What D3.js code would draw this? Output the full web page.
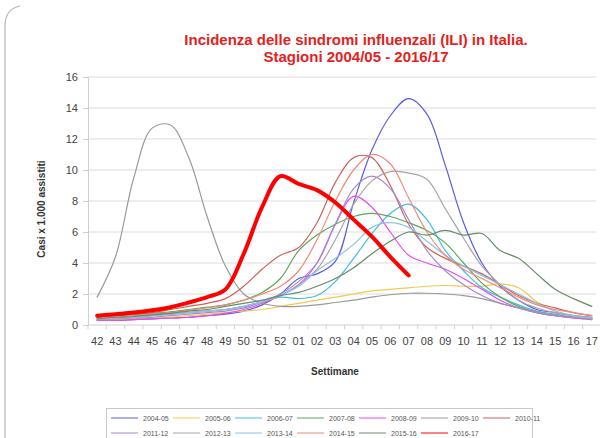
<!DOCTYPE html>
<html>
<head>
<meta charset="utf-8">
<script src="https://cdn.jsdelivr.net/npm/d3@7"></script>
<style>
  body { margin: 0; background: #fff; }
  svg { display: block; font-family: Arial, "Liberation Sans", sans-serif; }
</style>
</head>
<body>
<script>
// settimane 42..52, 01..17
var weeks = ['42','43','44','45','46','47','48','49','50','51','52','01','02','03','04','05','06','07','08','09','10','11','12','13','14','15','16','17']
var yTicks = [0, 2, 4, 6, 8, 10, 12, 14, 16]

var s2004_05 = [0.3,0.3,0.35,0.4,0.45,0.5,0.6,0.7,0.9,1.3,2.0,3.0,3.3,4.1,7.9,11.3,13.5,14.6,13.6,10.3,6.6,4.0,2.5,1.6,1.0,0.8,0.6,0.5]
var s2005_06 = [0.3,0.35,0.4,0.45,0.5,0.6,0.7,0.8,0.9,1.0,1.2,1.4,1.6,1.8,2.0,2.2,2.3,2.4,2.5,2.55,2.5,2.5,2.65,2.4,1.5,0.9,0.6,0.45]
var s2006_07 = [0.4,0.45,0.5,0.6,0.7,0.8,0.9,1.0,1.2,1.5,1.8,1.7,1.9,2.8,4.3,5.9,7.2,7.8,6.8,4.8,3.5,2.4,1.8,1.3,0.9,0.7,0.5,0.4]
var s2007_08 = [0.5,0.6,0.65,0.75,0.85,1.0,1.15,1.3,1.6,2.1,3.0,4.8,5.8,6.5,7.0,7.2,7.0,6.6,6.1,5.3,4.0,2.7,1.8,1.2,0.8,0.6,0.45,0.35]
var s2008_09 = [0.3,0.3,0.35,0.4,0.45,0.5,0.6,0.75,1.0,1.4,1.9,2.6,4.0,6.5,8.3,7.6,6.0,4.5,4.0,3.6,3.0,2.3,1.6,1.1,0.8,0.6,0.45,0.35]
var s2009_10 = [1.8,4.4,9.5,12.7,12.9,10.8,7.0,3.8,2.0,1.4,1.2,1.2,1.3,1.45,1.6,1.8,1.95,2.05,2.05,2.0,1.9,1.7,1.4,1.1,0.85,0.65,0.5,0.4]
var s2010_11 = [0.5,0.6,0.7,0.8,1.0,1.2,1.4,1.7,2.5,3.6,4.5,5.0,6.6,9.2,10.8,10.8,9.0,6.5,5.0,4.3,3.8,3.3,2.6,1.9,1.4,1.1,0.8,0.6]
var s2011_12 = [0.35,0.4,0.45,0.5,0.6,0.7,0.8,0.9,1.1,1.5,2.0,2.8,4.0,6.5,8.8,9.6,8.8,6.8,4.8,3.5,2.6,1.9,1.4,1.1,0.8,0.6,0.5,0.4]
var s2012_13 = [0.4,0.45,0.5,0.6,0.7,0.8,0.9,1.0,1.2,1.5,1.9,2.6,3.6,5.5,7.8,9.3,9.9,9.8,9.4,7.5,5.6,3.8,2.6,1.6,1.1,0.8,0.6,0.45]
var s2013_14 = [0.4,0.45,0.5,0.6,0.7,0.8,0.9,1.0,1.2,1.5,1.9,2.5,3.5,4.3,5.2,6.3,6.6,6.3,5.4,4.5,3.8,3.2,2.6,2.0,1.4,0.9,0.6,0.45]
var s2014_15 = [0.4,0.5,0.6,0.7,0.8,0.95,1.1,1.3,1.6,2.0,2.5,3.5,5.5,8.0,10.0,11.0,10.4,8.2,6.0,4.5,3.6,3.0,2.4,1.8,1.3,1.0,0.8,0.6]
var s2015_16 = [0.4,0.5,0.55,0.65,0.75,0.9,1.0,1.2,1.4,1.6,1.9,2.1,2.5,3.0,3.7,4.6,5.4,6.0,5.8,6.1,5.8,5.9,4.8,4.3,3.3,2.3,1.7,1.2]
var s2016_17 = [0.6,0.7,0.8,0.95,1.15,1.45,1.8,2.3,4.6,7.6,9.6,9.1,8.7,7.9,6.8,5.7,4.4,3.2,null,null,null,null,null,null,null,null,null,null]

var seasons = ['2004-05','2005-06','2006-07','2007-08','2008-09','2009-10','2010-11','2011-12','2012-13','2013-14','2014-15','2015-16','2016-17']
var seasonValues = [s2004_05, s2005_06, s2006_07, s2007_08, s2008_09, s2009_10, s2010_11, s2011_12, s2012_13, s2013_14, s2014_15, s2015_16, s2016_17]
var colors = ['#5b5be0','#f2c94c','#3fbfdf','#5aaa5a','#e84de8','#9a9a9a','#d0605a','#a68ad0','#aaa0b0','#8cc3e0','#f08a78','#6a8a6a','#ff0000']

var W = 600, H = 438
var margin = { left: 88, right: -1, top: 77, bottom: 325 }

var svg = d3.select('body').append('svg')
  .attr('width', W)
  .attr('height', H)

// chart frame (only the left side and corner show)
svg.append('path')
  .attr('d', 'M5,440 L5,26 Q5,9 20,6')
  .attr('fill', 'none')
  .attr('stroke', '#b8b8b8')
  .attr('stroke-width', 1.2)

var x = d3.scalePoint().domain(weeks).range([margin.left, W - margin.right]).padding(0.5)
var y = d3.scaleLinear().domain([0, 16]).range([margin.bottom, margin.top])
var step = x.step()

// title
var title = svg.append('text')
  .attr('text-anchor', 'middle')
  .attr('fill', '#e3221d')
  .style('font-weight', 'bold')
  .style('font-size', '15px')
title.append('tspan').attr('x', 356).attr('y', 45).text('Incidenza delle sindromi influenzali (ILI) in Italia.')
title.append('tspan').attr('x', 356).attr('y', 62).text('Stagioni 2004/05 - 2016/17')

// gridlines
svg.append('g').selectAll('line').data(yTicks.slice(1)).enter().append('line')
  .attr('x1', margin.left).attr('x2', 596)
  .attr('y1', function(d) { return y(d) }).attr('y2', function(d) { return y(d) })
  .attr('stroke', '#dcdcdc')

// y axis
var yAxis = svg.append('g')
  .attr('transform', 'translate(' + margin.left + ',0)')
  .call(d3.axisLeft(y).tickValues(yTicks).tickSize(5).tickPadding(5))
yAxis.select('.domain').attr('stroke', '#cfcfcf')
yAxis.selectAll('.tick line').attr('stroke', '#cfcfcf')
yAxis.selectAll('text').attr('fill', '#444').style('font-size', '11px').style('font-family', 'Arial, "Liberation Sans", sans-serif')

// x axis: ticks between categories, like the spreadsheet chart
var xg = svg.append('g')
xg.append('line')
  .attr('x1', margin.left).attr('x2', 600)
  .attr('y1', y(0)).attr('y2', y(0))
  .attr('stroke', '#cfcfcf')
xg.selectAll('line.tk').data(d3.range(weeks.length + 1)).enter().append('line')
  .attr('class', 'tk')
  .attr('x1', function(i) { return margin.left + i * step }).attr('x2', function(i) { return margin.left + i * step })
  .attr('y1', y(0)).attr('y2', y(0) + 4)
  .attr('stroke', '#cfcfcf')
xg.selectAll('text').data(weeks).enter().append('text')
  .attr('x', function(d) { return x(d) })
  .attr('y', y(0) + 20)
  .attr('text-anchor', 'middle')
  .attr('fill', '#444')
  .style('font-size', '11px')
  .text(function(d) { return d })

// axis titles
svg.append('text')
  .attr('transform', 'translate(45,209) rotate(-90)')
  .attr('text-anchor', 'middle')
  .attr('fill', '#333')
  .style('font-weight', 'bold')
  .style('font-size', '10px')
  .text('Casi x 1.000 assistiti')
svg.append('text')
  .attr('x', 335).attr('y', 375)
  .attr('text-anchor', 'middle')
  .attr('fill', '#333')
  .style('font-weight', 'bold')
  .style('font-size', '10px')
  .text('Settimane')

// lines
var line = d3.line()
  .defined(function(d) { return d != null })
  .x(function(d, i) { return x(weeks[i]) })
  .y(function(d) { return y(d) })
  .curve(d3.curveCatmullRom.alpha(0.5))

svg.append('g').selectAll('path').data(seasonValues).enter().append('path')
  .attr('d', function(d) { return line(d) })
  .attr('fill', 'none')
  .attr('stroke', function(d, i) { return colors[i] })
  .attr('stroke-width', function(d, i) { return i == seasons.length - 1 ? 4 : 1.2 })
  .attr('stroke-linejoin', 'round')
  .attr('stroke-linecap', 'round')

// legend
var lg = svg.append('g')
lg.append('rect')
  .attr('x', 106.5).attr('y', 408.5).attr('width', 426).attr('height', 40)
  .attr('fill', '#fff').attr('stroke', '#c8c8c8')
var items = lg.selectAll('g').data(seasons).enter().append('g')
  .attr('transform', function(d, i) { return 'translate(' + (111 + (i % 7) * 62) + ',' + (418 + Math.floor(i / 7) * 15) + ')' })
items.append('line')
  .attr('x1', 0).attr('x2', 27)
  .attr('stroke', function(d, i) { return colors[i] })
  .attr('stroke-width', 1)
items.append('text')
  .attr('x', 32).attr('y', 2.5)
  .attr('fill', '#555')
  .style('font-size', '7px')
  .text(function(d) { return d })
</script>
</body>
</html>
